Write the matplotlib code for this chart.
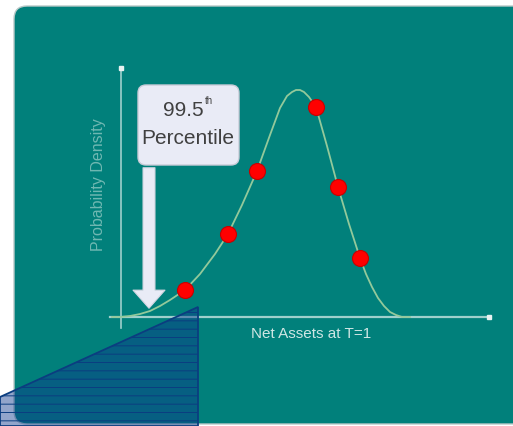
import numpy as np
import matplotlib
matplotlib.use('Agg')
import matplotlib.pyplot as plt
from matplotlib.patches import FancyBboxPatch, Polygon, FancyArrowPatch

plt.rcParams['font.family'] = ['Liberation Sans', 'DejaVu Sans']
plt.rcParams['hatch.linewidth'] = 0.7

######### Data (pixel units) #########
curve_x = [112, 120, 130, 140, 150, 160, 170, 185, 200, 215, 228, 242, 257,
           270, 280, 287, 292, 296, 300, 304, 309, 316, 327, 338, 349, 360,
           366, 372, 378, 384, 390, 396, 402, 410]
curve_y = [317, 317, 316, 314, 311, 306, 300, 290, 274, 254, 234, 205, 171,
           135, 108, 96, 92, 90, 90, 92, 97, 107, 146, 187, 224, 258,
           274, 287, 298, 306, 312, 315, 317, 317]
dots_x = [185, 228, 257, 316, 338, 360]
dots_y = [290, 234, 171, 107, 187, 258]
wedge_x = [0, 198, 198, 0]
wedge_y = [397, 307, 426, 426]

label_pct = '99.5'
label_sup = 'th'
label_pct2 = 'Percentile'
label_y = 'Probability Density'
label_x = 'Net Assets at T=1'

teal = '#01807b'

fig = plt.figure(figsize=(5.13, 4.26), dpi=100)
ax = fig.add_axes([0, 0, 1, 1])
ax.set_xlim(0, 513)
ax.set_ylim(426, 0)
ax.axis('off')

# panel
panel = FancyBboxPatch((14, 6), 540, 418,
                       boxstyle='round,pad=0,rounding_size=13',
                       facecolor=teal, edgecolor='#b9c9c8', linewidth=1.0,
                       zorder=1)
ax.add_patch(panel)

# axes lines
axcol = '#9fd0cc'
ax.plot([121, 121], [68, 328], color=axcol, lw=1.2, zorder=2)
ax.plot([110, 489], [317, 317], color=axcol, lw=1.6, zorder=2)
ax.plot([121], [68], 's', color='#e8f2f1', ms=2.5, zorder=2)
ax.plot([489], [317], 's', color='#e8f2f1', ms=3, zorder=2)

# density curve
ax.plot(curve_x, curve_y, color='#93c99b', lw=1.3,
        solid_joinstyle='round', zorder=3)

# sample points
ax.plot(dots_x, dots_y, 'o', color='#ff0000', markeredgecolor='#c80000',
        markersize=11.5, markeredgewidth=0.8, zorder=5)

# callout box and arrow
box = FancyBboxPatch((138, 85), 101, 80,
                     boxstyle='round,pad=0,rounding_size=8',
                     facecolor='#e9ebf6', edgecolor='#c9ccd8', lw=1,
                     zorder=6)
ax.add_patch(box)
arr = FancyArrowPatch((149, 165), (149, 311),
                      arrowstyle='simple,head_length=13,head_width=23,tail_width=8.6',
                      mutation_scale=1, facecolor='#e9ebf6',
                      edgecolor='#d3d6e2', lw=0.8, zorder=6)
ax.add_patch(arr)
ax.text(183, 110, label_pct, ha='center', va='center', fontsize=15,
        color='#404040', zorder=7)
ax.text(205, 101, label_sup, ha='left', va='center', fontsize=7,
        color='#404040', zorder=7)
ax.text(188, 138, label_pct2, ha='center', va='center', fontsize=15,
        color='#404040', zorder=7)

# axis labels
ax.text(99, 185, label_y, ha='center', va='center', rotation=90,
        fontsize=11.5, color='#6fb8b2', zorder=4)
ax.text(311, 334, label_x, ha='center', va='center', fontsize=11,
        color='#cfe6e4', zorder=4)

# hatched wedge in the lower left
tri = Polygon(np.column_stack([wedge_x, wedge_y]), closed=True,
              facecolor=(0.05, 0.22, 0.55, 0.45), edgecolor='#0b3d80',
              hatch='--', lw=1.3, zorder=8)
ax.add_patch(tri)

fig.savefig('out.png', dpi=100, facecolor='white')
